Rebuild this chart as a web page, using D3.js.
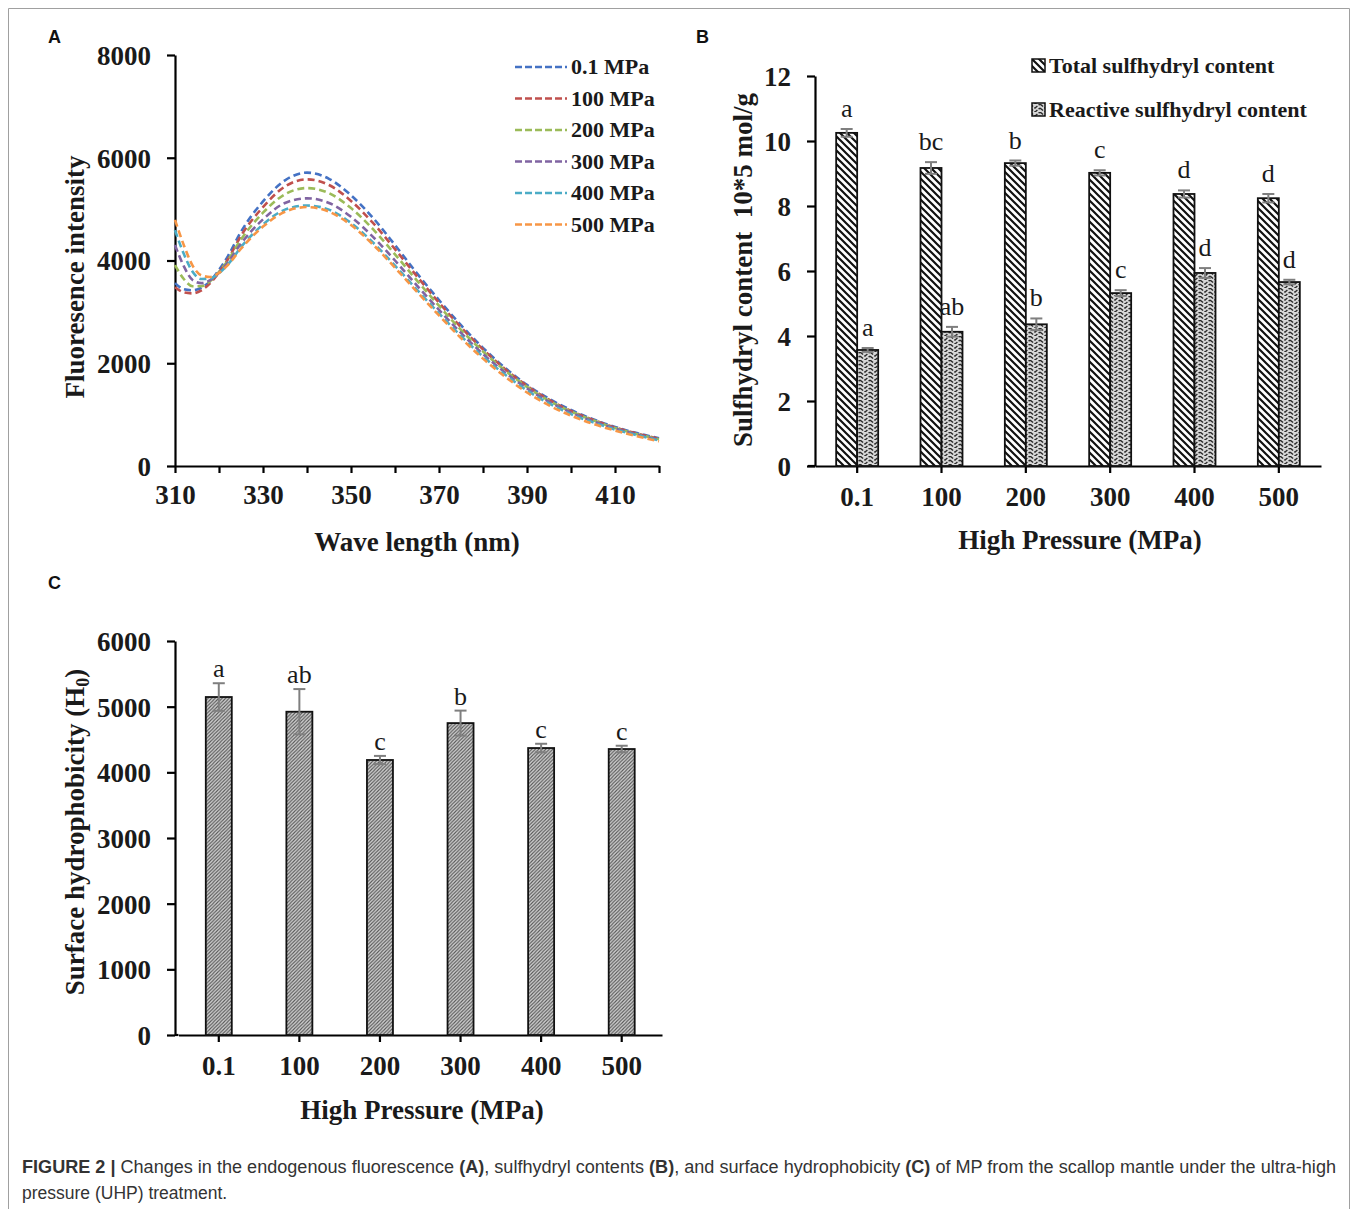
<!DOCTYPE html>
<html>
<head>
<meta charset="utf-8">
<script src="https://cdn.jsdelivr.net/npm/d3@7"></script>
<style>
  html, body { margin: 0; padding: 0; background: #fff; }
  svg { display: block; }
</style>
</head>
<body>
<svg id="fig" width="1358" height="1209"></svg>
<script>
// ---------- Panel A: endogenous fluorescence spectra ----------
const wavelengths = [310,312,314,316,318,320,322,325,330,335,340,345,350,355,360,365,370,375,380,385,390,395,400,405,410,415,420];
const pressureLabels = ["0.1 MPa","100 MPa","200 MPa","300 MPa","400 MPa","500 MPa"];
const lineColors = ["#4472C4","#C0504D","#9BBB59","#8064A2","#4BACC6","#F79646"];
const fl01  = [3560,3440,3420,3470,3600,3820,4080,4560,5150,5560,5710,5590,5270,4830,4300,3750,3230,2740,2300,1910,1580,1310,1090,910,760,640,540];
const fl100 = [3480,3380,3360,3420,3560,3770,4020,4480,5040,5440,5580,5470,5160,4730,4220,3690,3180,2700,2270,1890,1560,1290,1070,900,750,630,530];
const fl200 = [3910,3640,3500,3500,3600,3780,4000,4410,4930,5290,5410,5310,5020,4610,4120,3610,3120,2650,2230,1860,1540,1270,1060,890,740,620,520];
const fl300 = [4300,3890,3620,3560,3620,3760,3960,4330,4800,5120,5210,5120,4850,4460,4000,3510,3040,2590,2180,1820,1510,1250,1040,870,730,610,510];
const fl400 = [4590,4130,3780,3640,3650,3750,3920,4260,4700,4990,5070,4990,4730,4350,3900,3430,2970,2530,2130,1780,1470,1220,1010,850,710,600,500];
const fl500 = [4790,4300,3900,3710,3680,3760,3910,4230,4660,4950,5040,4950,4690,4310,3860,3390,2930,2490,2090,1740,1430,1180,980,820,690,580,480];
const fluorescence = [fl01, fl100, fl200, fl300, fl400, fl500];
const aYTicks = [0,2000,4000,6000,8000];
const aXTicks = [310,320,330,340,350,360,370,380,390,400,410,420];

// ---------- Panel B: sulfhydryl contents ----------
const pressures = ["0.1","100","200","300","400","500"];
const totalSH    = [10.25, 9.17, 9.32, 9.02, 8.37, 8.24];
const totalSHErr = [0.12, 0.18, 0.08, 0.08, 0.11, 0.13];
const totalSHSig = ["a","bc","b","c","d","d"];
const reactSH    = [3.57, 4.13, 4.36, 5.32, 5.94, 5.66];
const reactSHErr = [0.06, 0.15, 0.18, 0.09, 0.15, 0.07];
const reactSHSig = ["a","ab","b","c","d","d"];
const bYTicks = [0,2,4,6,8,10,12];

// ---------- Panel C: surface hydrophobicity ----------
const hydro    = [5147, 4923, 4188, 4750, 4370, 4355];
const hydroErr = [210, 345, 62, 190, 65, 50];
const hydroSig = ["a","ab","c","b","c","c"];
const cYTicks = [0,1000,2000,3000,4000,5000,6000];

const svg = d3.select("#fig");
svg.append("rect").attr("width",1358).attr("height",1209).attr("fill","#fff");

// figure frame
svg.append("path").attr("d","M8.5,1209 V8.5 H1349.5 V1209")
  .attr("fill","none").attr("stroke","#a0a0a0").attr("stroke-width",1);

// ---------- patterns ----------
const defs = svg.append("defs");
// wide back-diagonal hatch (total SH)
const pT = defs.append("pattern").attr("id","patTotal").attr("patternUnits","userSpaceOnUse")
  .attr("width",7).attr("height",7);
pT.append("rect").attr("width",7).attr("height",7).attr("fill","#fff");
pT.append("path").attr("d","M-1,-1 L8,8 M-1,6 L1,8 M6,-1 L8,1")
  .attr("stroke","#111").attr("stroke-width",2.2);
// zigzag weave (reactive SH)
const pR = defs.append("pattern").attr("id","patReact").attr("patternUnits","userSpaceOnUse")
  .attr("width",10).attr("height",8);
pR.append("rect").attr("width",10).attr("height",8).attr("fill","#d8d8d8");
pR.append("path").attr("d","M0,0 L5,4 L10,0 M0,4 L5,8 L10,4")
  .attr("fill","none").attr("stroke","#2a2a2a").attr("stroke-width",1.4)
  .attr("stroke-dasharray","4,1.5");
// fine forward-diagonal hatch (hydrophobicity)
const pC = defs.append("pattern").attr("id","patHydro").attr("patternUnits","userSpaceOnUse")
  .attr("width",3.5).attr("height",3.5);
pC.append("rect").attr("width",3.5).attr("height",3.5).attr("fill","#d6d6d6");
pC.append("path").attr("d","M-1,4.5 L4.5,-1 M-1,1 L1,-1 M2.5,4.5 L4.5,2.5")
  .attr("stroke","#555").attr("stroke-width",1.1);

const serif = "'Liberation Serif','Times New Roman',serif";
const sans = "'Liberation Sans',Arial,Helvetica,sans-serif";
const plain = d3.format("d");

function styleAxis(g, fontSize) {
  g.selectAll(".domain").attr("stroke","#000").attr("stroke-width",2.2);
  g.selectAll(".tick line").attr("stroke","#000").attr("stroke-width",2.2);
  g.selectAll(".tick text").attr("fill","#1a1a1a")
    .style("font-family",serif).style("font-weight","bold").style("font-size",fontSize+"px");
}

// panel letters
[["A",48,43],["B",696,43],["C",48,589]].forEach(([t,x,y]) => {
  svg.append("text").attr("x",x).attr("y",y).text(t)
    .style("font-family",sans).style("font-weight","bold").style("font-size","18px").attr("fill","#111");
});

// =============== Panel A ===============
const xA = d3.scaleLinear().domain([310,420]).range([175,659]);
const yA = d3.scaleLinear().domain([0,8000]).range([466,55]);

const gAx = svg.append("g").attr("transform",`translate(0,${yA(0)})`)
  .call(d3.axisBottom(xA).tickValues(aXTicks).tickSize(7).tickSizeOuter(0).tickPadding(12)
    .tickFormat(d => (d - 310) % 20 === 0 ? plain(d) : ""));
styleAxis(gAx, 27);
const gAy = svg.append("g").attr("transform",`translate(${xA(310)},0)`)
  .call(d3.axisLeft(yA).tickValues(aYTicks).tickFormat(plain).tickSize(8).tickSizeOuter(0).tickPadding(16));
styleAxis(gAy, 27);
gAy.selectAll(".tick text").attr("dy","0.35em");

const lineA = d3.line().x((d,i) => xA(wavelengths[i])).y(d => yA(d)).curve(d3.curveMonotoneX);
fluorescence.forEach((series, k) => {
  svg.append("path").datum(series).attr("d", lineA)
    .attr("fill","none").attr("stroke",lineColors[k]).attr("stroke-width",2.6)
    .attr("stroke-dasharray","7,4");
});

// legend A
pressureLabels.forEach((lab, k) => {
  const ly = 67 + k * 31.5;
  svg.append("line").attr("x1",515).attr("x2",567).attr("y1",ly).attr("y2",ly)
    .attr("stroke",lineColors[k]).attr("stroke-width",2.6).attr("stroke-dasharray","7,3");
  svg.append("text").attr("x",571).attr("y",ly+7).text(lab)
    .style("font-family",serif).style("font-weight","bold").style("font-size","22px").attr("fill","#1a1a1a");
});

svg.append("text").attr("x",417).attr("y",551).attr("text-anchor","middle").text("Wave length (nm)")
  .style("font-family",serif).style("font-weight","bold").style("font-size","27px").attr("fill","#1a1a1a");
svg.append("text").attr("transform","translate(84,277) rotate(-90)").attr("text-anchor","middle")
  .text("Fluoresence intensity")
  .style("font-family",serif).style("font-weight","bold").style("font-size","27px").attr("fill","#1a1a1a");

// =============== Panel B ===============
const xB = d3.scaleBand().domain(pressures).range([815,1321]);
const yB = d3.scaleLinear().domain([0,12]).range([466,76]);
const barW_B = 21;

// baseline runs slightly left of the value axis
svg.append("line").attr("x1",xB.range()[0]-7).attr("x2",xB.range()[0])
  .attr("y1",yB(0)).attr("y2",yB(0)).attr("stroke","#000").attr("stroke-width",2.2);
const gBx = svg.append("g").attr("transform",`translate(0,${yB(0)})`)
  .call(d3.axisBottom(xB).tickSize(7).tickSizeOuter(0).tickPadding(14));
styleAxis(gBx, 27);
const gBy = svg.append("g").attr("transform",`translate(${xB.range()[0]},0)`)
  .call(d3.axisLeft(yB).tickValues(bYTicks).tickFormat(plain).tickSize(8).tickSizeOuter(0).tickPadding(16));
styleAxis(gBy, 27);
gBy.selectAll(".tick text").attr("dy","0.35em");

function drawBarsB(vals, errs, sigs, offset, fill) {
  const cx = d => xB(pressures[d]) + xB.bandwidth()/2;
  const g = svg.append("g");
  vals.forEach((v, i) => {
    const x0 = cx(i) + offset;
    g.append("rect").attr("x",x0).attr("width",barW_B)
      .attr("y",yB(v)).attr("height",yB(0)-yB(v))
      .attr("fill",fill).attr("stroke","#111").attr("stroke-width",1.8);
    const mx = x0 + barW_B/2;
    const top = yB(v + errs[i]), bot = yB(v - errs[i]);
    g.append("line").attr("x1",mx).attr("x2",mx).attr("y1",top).attr("y2",bot)
      .attr("stroke","#7f7f7f").attr("stroke-width",2);
    [top, bot].forEach(yy => g.append("line").attr("x1",mx-6).attr("x2",mx+6).attr("y1",yy).attr("y2",yy)
      .attr("stroke","#7f7f7f").attr("stroke-width",2));
    g.append("text").attr("x",mx).attr("y",top-12).attr("text-anchor","middle").text(sigs[i])
      .style("font-family",serif).style("font-size","26px").attr("fill","#1a1a1a");
  });
}
drawBarsB(totalSH, totalSHErr, totalSHSig, -barW_B, "url(#patTotal)");
drawBarsB(reactSH, reactSHErr, reactSHSig, 0, "url(#patReact)");

// legend B
[["Total sulfhydryl content","url(#patTotal)",66],["Reactive sulfhydryl content","url(#patReact)",110]]
  .forEach(([lab, fill, ly]) => {
    svg.append("rect").attr("x",1032).attr("y",ly-7).attr("width",13).attr("height",13)
      .attr("fill",fill).attr("stroke","#111").attr("stroke-width",1.5);
    svg.append("text").attr("x",1049).attr("y",ly+7).text(lab)
      .style("font-family",serif).style("font-weight","bold").style("font-size","22px").attr("fill","#1a1a1a");
  });

svg.append("text").attr("x",1080).attr("y",549).attr("text-anchor","middle").text("High Pressure (MPa)")
  .style("font-family",serif).style("font-weight","bold").style("font-size","27px").attr("fill","#1a1a1a");
svg.append("text").attr("transform","translate(752,270) rotate(-90)").attr("text-anchor","middle")
  .text("Sulfhydryl content\u00a0\u00a010*5 mol/g")
  .style("font-family",serif).style("font-weight","bold").style("font-size","27px")
  .attr("fill","#1a1a1a");

// =============== Panel C ===============
const xC = d3.scaleBand().domain(pressures).range([178.5,662]);
const yC = d3.scaleLinear().domain([0,6000]).range([1035,641]);
const barW_C = 26;

svg.append("line").attr("x1",175).attr("x2",xC.range()[0])
  .attr("y1",yC(0)).attr("y2",yC(0)).attr("stroke","#000").attr("stroke-width",2.2);
const gCx = svg.append("g").attr("transform",`translate(0,${yC(0)})`)
  .call(d3.axisBottom(xC).tickSize(7).tickSizeOuter(0).tickPadding(14));
styleAxis(gCx, 27);
const gCy = svg.append("g").attr("transform",`translate(175,0)`)
  .call(d3.axisLeft(yC).tickValues(cYTicks).tickFormat(plain).tickSize(8).tickSizeOuter(0).tickPadding(16));
styleAxis(gCy, 27);
gCy.selectAll(".tick text").attr("dy","0.35em");

hydro.forEach((v, i) => {
  const mx = xC(pressures[i]) + xC.bandwidth()/2;
  svg.append("rect").attr("x",mx-barW_C/2).attr("width",barW_C)
    .attr("y",yC(v)).attr("height",yC(0)-yC(v))
    .attr("fill","url(#patHydro)").attr("stroke","#111").attr("stroke-width",1.8);
  const top = yC(v + hydroErr[i]), bot = yC(v - hydroErr[i]);
  svg.append("line").attr("x1",mx).attr("x2",mx).attr("y1",top).attr("y2",bot)
    .attr("stroke","#7f7f7f").attr("stroke-width",2);
  [top, bot].forEach(yy => svg.append("line").attr("x1",mx-6).attr("x2",mx+6).attr("y1",yy).attr("y2",yy)
    .attr("stroke","#7f7f7f").attr("stroke-width",2));
  svg.append("text").attr("x",mx).attr("y",top-6).attr("text-anchor","middle").text(hydroSig[i])
    .style("font-family",serif).style("font-size","26px").attr("fill","#1a1a1a");
});

svg.append("text").attr("x",422).attr("y",1119).attr("text-anchor","middle").text("High Pressure (MPa)")
  .style("font-family",serif).style("font-weight","bold").style("font-size","27px").attr("fill","#1a1a1a");
const tC = svg.append("text").attr("transform","translate(84,832) rotate(-90)").attr("text-anchor","middle")
  .style("font-family",serif).style("font-weight","bold").style("font-size","27px").attr("fill","#1a1a1a");
tC.append("tspan").text("Surface hydrophobicity (H");
tC.append("tspan").attr("dy",5).style("font-size","18px").text("0");
tC.append("tspan").attr("dy",-5).text(")");

// ---------- caption ----------
const cap1 = svg.append("text").attr("x",22).attr("y",1173)
  .attr("textLength",1314).attr("lengthAdjust","spacingAndGlyphs")
  .style("font-family",sans).style("font-size","17.5px").attr("fill","#333");
[["FIGURE 2 | ",true],["Changes in the endogenous fluorescence ",false],["(A)",true],[", sulfhydryl contents ",false],
 ["(B)",true],[", and surface hydrophobicity ",false],["(C)",true],[" of MP from the scallop mantle under the ultra-high",false]]
  .forEach(([t,b]) => cap1.append("tspan").style("font-weight", b ? "bold" : "normal").style("white-space","pre").text(t));
svg.append("text").attr("x",22).attr("y",1199).text("pressure (UHP) treatment.")
  .style("font-family",sans).style("font-size","17.5px").attr("fill","#333");
</script>
</body>
</html>
